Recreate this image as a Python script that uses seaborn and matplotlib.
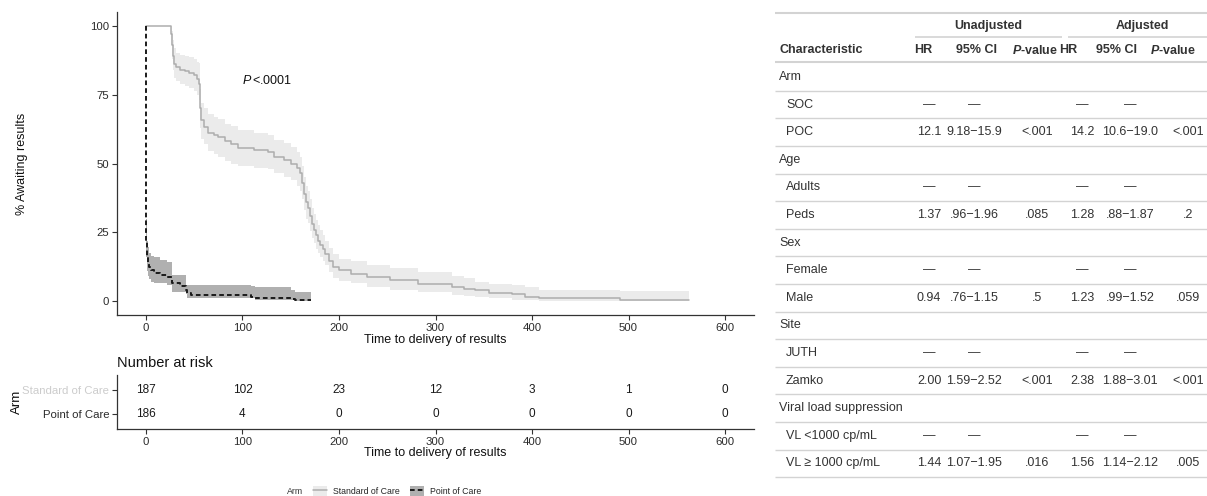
import numpy as np
import pandas as pd
import matplotlib
matplotlib.use("Agg")
import matplotlib.pyplot as plt
import seaborn as sns
from matplotlib.lines import Line2D
from matplotlib.patches import Patch
from matplotlib.legend_handler import HandlerTuple

# Kaplan-Meier estimate, Standard of Care
soc_time = [0, 26, 27, 28, 29, 31, 35, 40, 45, 50, 53, 55, 56, 57, 60, 64, 70, 75, 82, 88,
            95, 112, 126, 133, 143, 150, 157, 160, 162, 164, 166, 168, 170, 172, 174, 176, 178, 180,
            183, 186, 190, 194, 200, 212, 229, 253, 282, 317, 330, 341, 355, 379, 393, 407, 491, 563]
soc_surv = [100, 97, 93, 89, 86, 85, 84, 83.5, 83, 82, 80.5, 79, 70, 65.7, 63.3, 61, 60.3, 59.5, 58, 57,
            55.5, 54.8, 54.2, 52.4, 51.2, 50, 48.2, 46.4, 43, 39, 36, 34, 31, 28, 26, 24, 22, 20.5,
            19, 17, 14.5, 12.5, 11.3, 10, 8.8, 7.6, 6.3, 5.2, 4.5, 3.9, 3.1, 2.6, 1.6, 1.0, 0.5, 0.5]
soc_upper = [100, 100, 98, 95, 92, 90, 89.5, 89, 88.5, 88, 87, 86.5, 77, 72, 70, 68, 67, 66, 64.5, 63.5,
             62, 61, 60.5, 58.5, 57.5, 56, 54, 52.5, 49, 45, 42, 40, 37, 34, 31.5, 29.5, 27.5, 26,
             24, 22, 19.5, 17, 15.5, 14.5, 13, 12, 10.6, 9.2, 8.3, 7, 6.3, 5.8, 5, 4, 3.6, 3.6]
soc_lower = [100, 93, 88, 84, 81, 80, 79, 78, 77.5, 76.5, 75, 73, 63, 59, 57, 54.5, 53.5, 52.5, 51, 50,
             49, 48.5, 48, 46.5, 45, 44, 42, 40, 37, 33, 30, 28.5, 25.5, 23, 21, 19, 17.5, 16,
             14.5, 13, 10.5, 8.5, 7.5, 6.5, 5.2, 4.2, 3.2, 2.3, 1.8, 1.5, 1.0, 0.6, 0.3, 0.1, 0, 0]

# Kaplan-Meier estimate, Point of Care
poc_time = [0, 0.5, 1, 1.5, 2, 3, 5, 8, 15, 22, 27, 35, 41, 43, 47, 109, 113, 150, 154, 171]
poc_surv = [100, 22, 18.5, 16, 13.8, 12.5, 11.2, 10.2, 9.5, 8.7, 6.5, 5.5, 4.2, 2.9, 2.2, 1.6, 1.2, 0.9, 0.5, 0.5]
poc_upper = [100, 30, 26, 22, 19.6, 17.5, 16.5, 16, 15, 14.3, 9.4, 9.4, 5.8, 5.8, 5.8, 5.5, 5.2, 4, 3.4, 3.4]
poc_lower = [100, 16, 13, 11, 9, 8, 7, 6.5, 6.5, 6, 3.4, 3.4, 2.5, 1.2, 1, 1, 0.5, 0.4, 0.1, 0.1]

# number at risk
risk_times = [0, 100, 200, 300, 400, 500, 600]
risk_soc = [187, 102, 23, 12, 3, 1, 0]
risk_poc = [186, 4, 0, 0, 0, 0, 0]
arm_names = ["Standard of Care", "Point of Care"]

# Cox model table
tab_labels = ["Arm", "SOC", "POC", "Age", "Adults", "Peds", "Sex", "Female", "Male",
              "Site", "JUTH", "Zamko", "Viral load suppression", "VL <1000 cp/mL", "VL \u2265 1000 cp/mL"]
tab_group = [True, False, False, True, False, False, True, False, False,
             True, False, False, True, False, False]
hr_unadj = ["", "\u2014", "12.1", "", "\u2014", "1.37", "", "\u2014", "0.94", "", "\u2014", "2.00", "", "\u2014", "1.44"]
ci_unadj = ["", "\u2014", "9.18\u221215.9", "", "\u2014", ".96\u22121.96", "", "\u2014", ".76\u22121.15",
            "", "\u2014", "1.59\u22122.52", "", "\u2014", "1.07\u22121.95"]
p_unadj = ["", "", "<.001", "", "", ".085", "", "", ".5", "", "", "<.001", "", "", ".016"]
hr_adj = ["", "\u2014", "14.2", "", "\u2014", "1.28", "", "\u2014", "1.23", "", "\u2014", "2.38", "", "\u2014", "1.56"]
ci_adj = ["", "\u2014", "10.6\u221219.0", "", "\u2014", ".88\u22121.87", "", "\u2014", ".99\u22121.52",
          "", "\u2014", "1.88\u22123.01", "", "\u2014", "1.14\u22122.12"]
p_adj = ["", "", "<.001", "", "", ".2", "", "", ".059", "", "", "<.001", "", "", ".005"]

sns.set_theme(style="ticks")
plt.rcParams['font.family'] = ['Liberation Sans', 'DejaVu Sans']
plt.rcParams['mathtext.fontset'] = 'custom'
plt.rcParams['mathtext.rm'] = 'Liberation Sans'
plt.rcParams['mathtext.it'] = 'Liberation Sans:italic'
plt.rcParams['mathtext.bf'] = 'Liberation Sans:bold'
plt.rcParams['mathtext.bfit'] = 'Liberation Sans:italic:bold'

W, H = 1207, 496
fig = plt.figure(figsize=(W / 100, H / 100), dpi=100)
fig.patch.set_facecolor('white')

soc_color, soc_fill = '#adadad', '#ebebeb'
poc_color, poc_fill = '#1a1a1a', '#b0b0b0'
ink = '#333333'
dash = (0, (2.4, 1.6))

def style_axis(ax):
    sns.despine(ax=ax)
    for s in ['left', 'bottom']:
        ax.spines[s].set_color(ink)
        ax.spines[s].set_linewidth(0.9)
    ax.tick_params(length=3.5, width=0.8, color=ink, labelsize=8.2, labelcolor='#2b2b2b', pad=2)

# ---- survival curves
ax = fig.add_axes([117 / W, 1 - 315 / H, 637 / W, 303 / H])
ax.fill_between(soc_time, soc_lower, soc_upper, step='post', color=soc_fill, lw=0)
ax.fill_between(poc_time, poc_lower, poc_upper, step='post', color=poc_fill, lw=0)
sns.lineplot(x=soc_time, y=soc_surv, drawstyle='steps-post', color=soc_color, lw=1.1,
             estimator=None, sort=False, ax=ax)
sns.lineplot(x=poc_time, y=poc_surv, drawstyle='steps-post', color=poc_color, lw=1.4,
             linestyle=dash, estimator=None, sort=False, ax=ax)
ax.set_xlim(-30, 630)
ax.set_ylim(-5, 105)
ax.set_xticks(risk_times)
ax.set_yticks([0, 25, 50, 75, 100])
ax.text(100, 80, r'$\mathit{P}\,$<.0001', fontsize=9, ha='left', va='center', color='#111111')
ax.set_xlabel('Time to delivery of results', fontsize=9, labelpad=1, color='#111111')
ax.set_ylabel('% Awaiting results', fontsize=9, color='#111111')
ax.yaxis.set_label_coords(-0.14, 0.5)
style_axis(ax)

# ---- number at risk
axr = fig.add_axes([117 / W, 1 - 429 / H, 637 / W, 54 / H])
for t, n1, n2 in zip(risk_times, risk_soc, risk_poc):
    axr.text(t, 2, str(n1), ha='center', va='center', fontsize=8.5, color='#1a1a1a')
    axr.text(t, 1, str(n2), ha='center', va='center', fontsize=8.5, color='#1a1a1a')
axr.set_xlim(-30, 630)
axr.set_ylim(0.4, 2.6)
axr.set_xticks(risk_times)
axr.set_yticks([2, 1])
axr.set_yticklabels(arm_names)
style_axis(axr)
axr.get_yticklabels()[0].set_color('#cccccc')
axr.set_xlabel('Time to delivery of results', fontsize=9, labelpad=0, color='#111111')
axr.set_ylabel('Arm', fontsize=9.5, color='#111111')
axr.yaxis.set_label_coords(-0.1476, 0.5)
axr.set_title('Number at risk', loc='left', fontsize=10.5, pad=5.5, color='#111111')

# ---- legend
fig.text(287 / W, 1 - 491 / H, 'Arm', fontsize=6.3, va='center', ha='left', color=ink)
handles = [(Patch(facecolor=soc_fill, edgecolor='none'), Line2D([], [], color=soc_color, lw=1.1)),
           (Patch(facecolor=poc_fill, edgecolor='none'), Line2D([], [], color=poc_color, lw=1.4, linestyle=dash))]
fig.legend(handles=handles, labels=arm_names, ncol=2, loc='center left',
           bbox_to_anchor=(309 / W, 1 - 491 / H), frameon=False, fontsize=6.3,
           handlelength=1.6, handleheight=1.4, handletextpad=0.7, columnspacing=1.1,
           borderpad=0, handler_map={tuple: HandlerTuple(ndivide=1, pad=0)})

# ---- regression table
axt = fig.add_axes([0, 0, 1, 1])
axt.set_xlim(0, W)
axt.set_ylim(H, 0)
axt.axis('off')

line_c = '#d3d3d3'
fs = 9
axt.hlines(13, 775, W, color=line_c, lw=1.5)
axt.hlines(37, 915, 1062, color=line_c, lw=1.2)
axt.hlines(37, 1068, W, color=line_c, lw=1.2)
axt.hlines(62, 775, W, color=line_c, lw=1.5)
axt.text(988, 26, 'Unadjusted', ha='center', va='center', fontsize=fs, fontweight='bold', color=ink)
axt.text(1142, 26, 'Adjusted', ha='center', va='center', fontsize=fs, fontweight='bold', color=ink)

head_x = [923, 977, 1035, 1068, 1117, 1173]
head_txt = ['HR', '95% CI', r'$\mathbfit{P}$-value', 'HR', '95% CI', r'$\mathbfit{P}$-value']
axt.text(779, 50, 'Characteristic', ha='left', va='center', fontsize=fs, fontweight='bold', color=ink)
for x, s in zip(head_x, head_txt):
    axt.text(x, 50, s, ha='center', va='center', fontsize=fs, fontweight='bold', color=ink)

col_x = [929, 974, 1037, 1082, 1130, 1188]
cols = [hr_unadj, ci_unadj, p_unadj, hr_adj, ci_adj, p_adj]
row_h = 27.6
for i, lab in enumerate(tab_labels):
    y = 77 + i * row_h
    axt.text(779 if tab_group[i] else 786, y, lab, ha='left', va='center', fontsize=fs, color=ink)
    for x, col in zip(col_x, cols):
        if col[i]:
            axt.text(x, y, col[i], ha='center', va='center', fontsize=fs, color=ink)
    axt.hlines(y + row_h / 2, 775, W, color=line_c, lw=1.0)

fig.savefig('out.png', dpi=100, facecolor='white')
